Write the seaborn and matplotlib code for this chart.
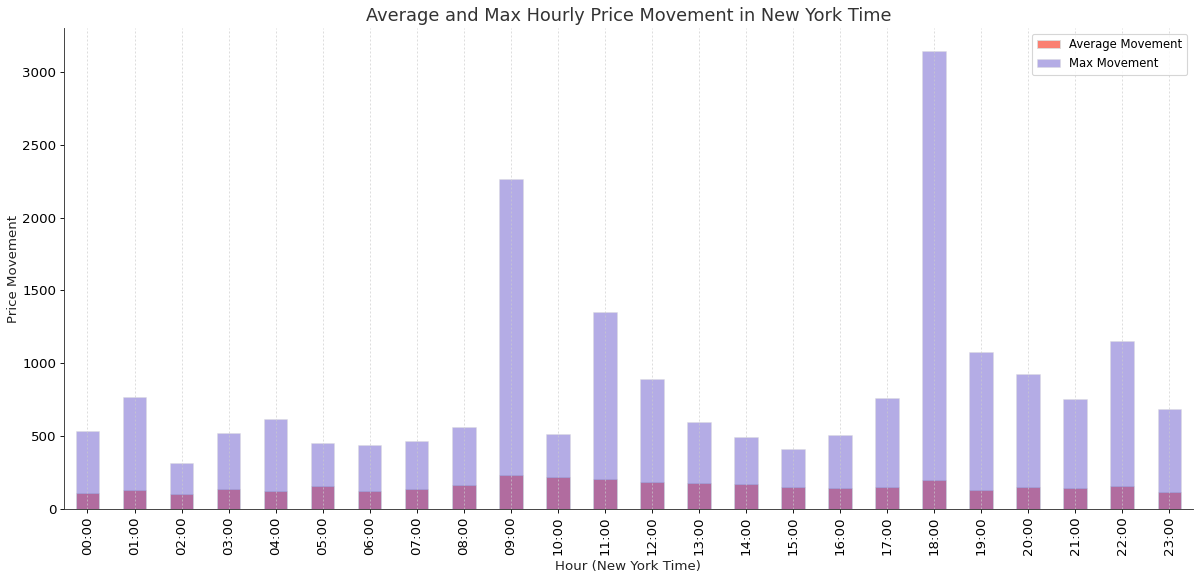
import matplotlib
matplotlib.use("Agg")
from matplotlib import pyplot as plt
import seaborn as sns
import pandas as pd

hours = [f"{h:02d}:00" for h in range(24)]
avg_movement = [108, 128, 99, 137, 121, 155, 121, 137, 162, 230, 217, 203,
                183, 176, 169, 149, 144, 149, 196, 133, 149, 144, 160, 114]
max_movement = [535, 769, 316, 522, 618, 453, 439, 467, 563, 2265, 515, 1352,
                892, 597, 494, 412, 508, 762, 3145, 1078, 927, 755, 1153, 686]


def make_plot():
    data = pd.DataFrame({'Hour': hours,
                         'Average Movement': avg_movement,
                         'Max Movement': max_movement})
    fig, ax = plt.subplots(figsize=(15, 7.2125), dpi=80)
    fig.subplots_adjust(left=0.0533, right=0.994, top=0.9515, bottom=0.118)

    sns.barplot(data=data, x='Hour', y='Average Movement', color='salmon',
                saturation=1, width=0.5, label='Average Movement',
                edgecolor='#dddddd', linewidth=0.8, ax=ax)
    sns.barplot(data=data, x='Hour', y='Max Movement', color='slateblue',
                saturation=1, alpha=0.5, width=0.5, label='Max Movement',
                edgecolor='#dddddd', linewidth=0.8, ax=ax)

    ax.set_xlim(-0.5, 23.5)
    ax.set_ylim(0, 3302)
    ax.grid(axis='x', linestyle=(0, (3, 3)), color='#cccccc', linewidth=0.6)
    ax.spines['top'].set_visible(False)
    ax.spines['right'].set_visible(False)
    for s in ['left', 'bottom']:
        ax.spines[s].set_color('#333333')
    ax.tick_params(axis='x', rotation=90, labelsize=12)
    ax.tick_params(axis='y', labelsize=12)
    ax.set_title('Average and Max Hourly Price Movement in New York Time',
                 fontsize=16, color='#333333')
    ax.set_xlabel('Hour (New York Time)', fontsize=12, color='#222222')
    ax.set_ylabel('Price Movement', fontsize=12, color='#222222', labelpad=2)
    ax.legend(loc='upper right', fontsize=10.5)


def save_plot_as(filename):
    make_plot()
    plt.savefig(filename, dpi=80)
    plt.close()


if __name__ == '__main__':
    save_plot_as('out.png')
